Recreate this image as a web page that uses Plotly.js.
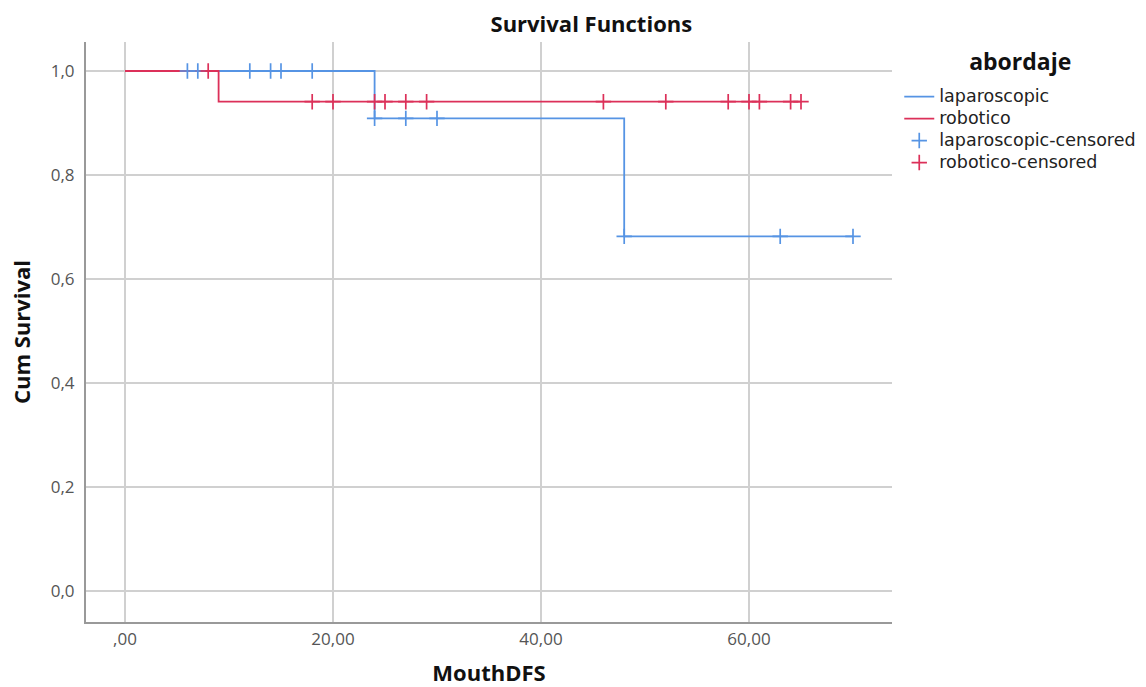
<!DOCTYPE html>
<html><head><meta charset="utf-8">
<script src="https://cdn.plot.ly/plotly-3.0.1.min.js"></script>
<style>html,body{margin:0;padding:0;background:#fff}#chart{width:1146px;height:687px}</style>
</head><body><div id="chart"></div>
<script>
// Kaplan-Meier step curves
const lapTimes = [0, 24, 48, 70];
const lapSurv  = [1.0, 0.909, 0.682, 0.682];
const robTimes = [0, 9, 65];
const robSurv  = [1.0, 0.941, 0.941];
// censored observations
const lapCensT = [6, 7, 12, 14, 15, 18, 24, 27, 30, 48, 63, 70];
const lapCensS = [1.0, 1.0, 1.0, 1.0, 1.0, 1.0, 0.909, 0.909, 0.909, 0.682, 0.682, 0.682];
const robCensT = [8, 18, 20, 24, 25, 27, 29, 46, 52, 58, 60, 61, 64, 65];
const robCensS = [1.0, 0.941, 0.941, 0.941, 0.941, 0.941, 0.941, 0.941, 0.941, 0.941, 0.941, 0.941, 0.941, 0.941];
const seriesNames = ["laparoscopic", "robotico", "laparoscopic-censored", "robotico-censored"];
const legendTitle = "abordaje";
const xTickVals = [0, 20, 40, 60];
const xTickText = [",00", "20,00", "40,00", "60,00"];
const yTickVals = [0, 0.2, 0.4, 0.6, 0.8, 1.0];
const yTickText = ["0,0", "0,2", "0,4", "0,6", "0,8", "1,0"];

const BLUE = "#5694e4", RED = "#dc3059";
const FONT = "Open Sans, Noto Sans, sans-serif";
const LFONT = "DejaVu Sans, Open Sans, sans-serif";
const big = s => '<span style="font-size:17.5px">' + s + '</span>';

const traces = [
  {x: lapTimes, y: lapSurv, mode: "lines", line: {shape: "hv", color: BLUE, width: 1.8}, name: big(seriesNames[0])},
  {x: robTimes, y: robSurv, mode: "lines", line: {shape: "hv", color: RED, width: 1.8}, name: big(seriesNames[1])},
  {x: lapCensT, y: lapCensS, mode: "markers", marker: {symbol: "cross-thin-open", size: 11, line: {color: BLUE, width: 1.7}, color: BLUE}, name: big(seriesNames[2])},
  {x: robCensT, y: robCensS, mode: "markers", marker: {symbol: "cross-thin-open", size: 11, line: {color: RED, width: 1.7}, color: RED}, name: big(seriesNames[3])}
];

const layout = {
  width: 1146, height: 687,
  margin: {l: 86, r: 254, t: 42, b: 65, autoexpand: false},
  paper_bgcolor: "#fff", plot_bgcolor: "#fff",
  font: {family: FONT, color: "#333"},
  title: {text: "<b>Survival Functions</b>", x: 0.516, xanchor: "center", xref: "container", y: 0.965, yref: "container", yanchor: "middle", font: {size: 22, color: "#111", family: FONT}},
  xaxis: {
    range: [-3.75, 73.75], tickvals: xTickVals, ticktext: xTickText,
    showgrid: true, gridcolor: "#d0d0d0", gridwidth: 1.5, zeroline: false,
    showline: true, linecolor: "#999", linewidth: 2, ticks: "",
    tickfont: {size: 17, color: "#555"}, ticklabelstandoff: 1,
    title: {text: "<b>MouthDFS</b>", font: {size: 22, color: "#111"}, standoff: 16}
  },
  yaxis: {
    range: [-0.0596, 1.0558], tickvals: yTickVals, ticktext: yTickText,
    showgrid: true, gridcolor: "#d0d0d0", gridwidth: 1.5, zeroline: false,
    showline: true, linecolor: "#999", linewidth: 2, ticks: "",
    tickfont: {size: 17, color: "#555"}, ticklabelstandoff: 6,
    title: {text: "<b>Cum Survival</b>", font: {size: 22, color: "#111"}, standoff: 14}
  },
  legend: {
    x: 1.009, xanchor: "left", y: 0.985, yanchor: "top",
    title: {text: '<span style="baseline-shift:11px"><b>' + legendTitle + '</b></span>', side: "top center", font: {size: 23, color: "#111", family: FONT}},
    font: {size: 14.6, color: "#222", family: LFONT}, tracegroupgap: 0, itemwidth: 30,
    bgcolor: "rgba(0,0,0,0)"
  },
  showlegend: true
};
Plotly.newPlot("chart", traces, layout, {displayModeBar: false, staticPlot: true});
</script></body></html>
